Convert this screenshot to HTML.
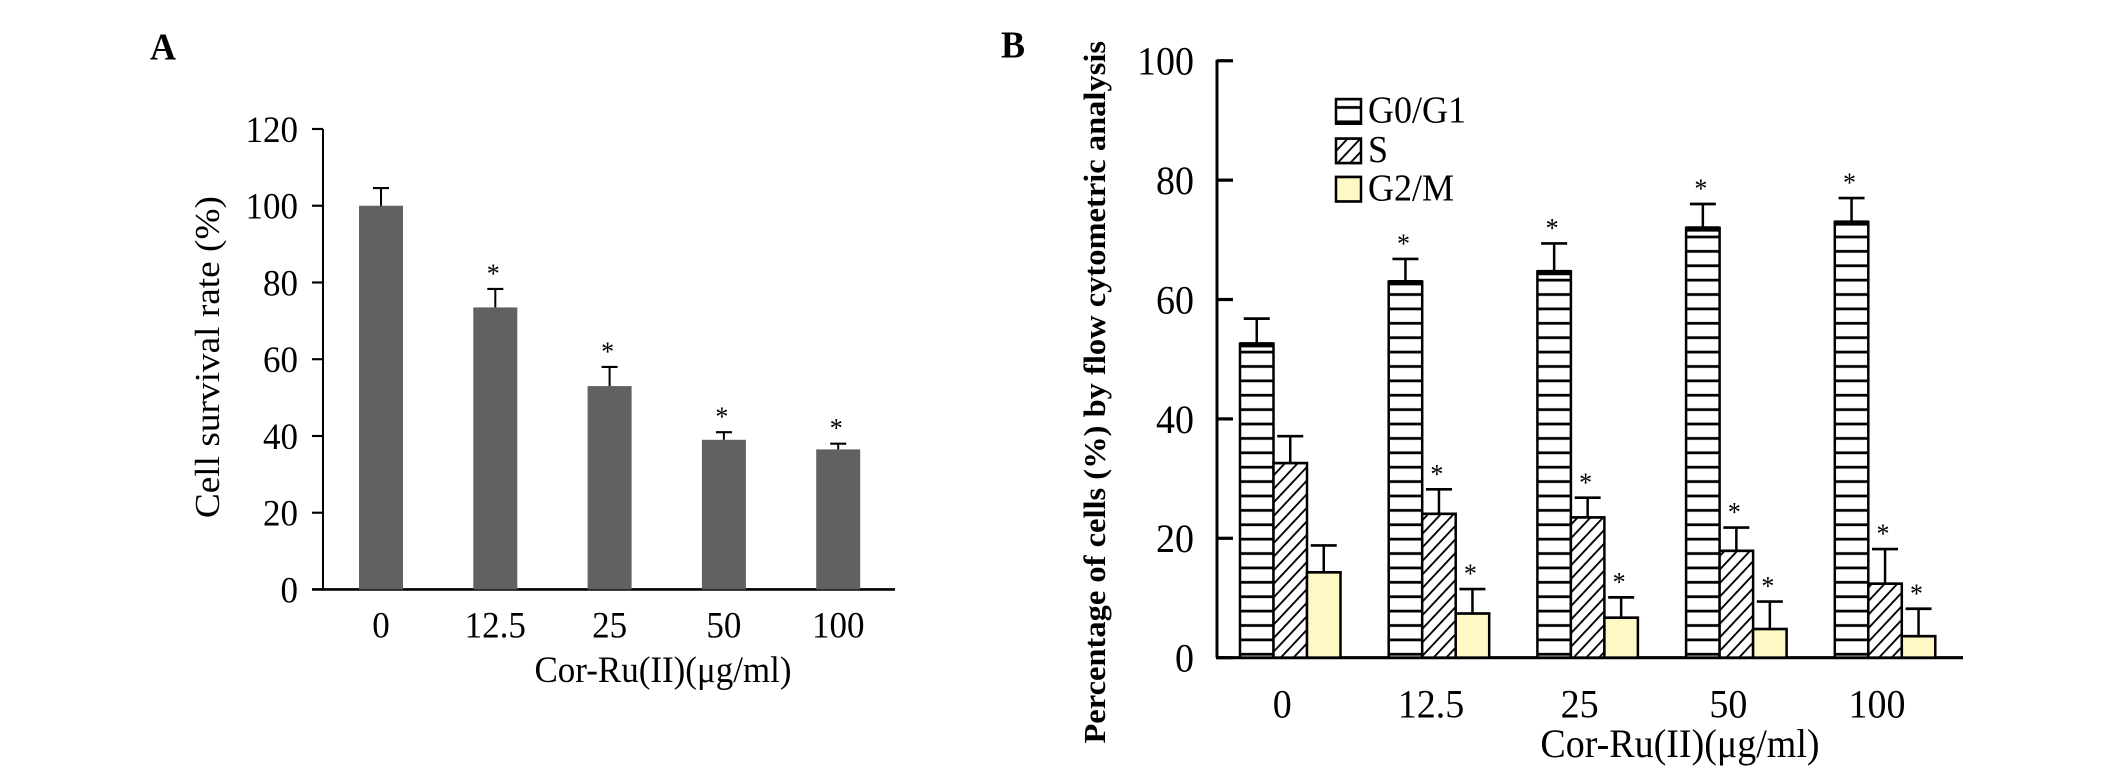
<!DOCTYPE html>
<html><head><meta charset="utf-8"><style>
html,body{margin:0;padding:0;background:#fff;}
svg{display:block;font-family:"Liberation Serif",serif;}
</style></head><body>
<svg id="fig" width="2126" height="776" viewBox="0 0 2126 728" preserveAspectRatio="none" xmlns="http://www.w3.org/2000/svg">
<defs>
<pattern id="hstripe" patternUnits="userSpaceOnUse" width="10" height="13.5"><rect width="10" height="13.5" fill="#fff"/><rect y="5" width="10" height="2.6" fill="#000"/></pattern>
<pattern id="diag" patternUnits="userSpaceOnUse" width="9" height="9" patternTransform="rotate(45)"><rect width="9" height="9" fill="#fff"/><rect x="0" width="1.8" height="9" fill="#000"/></pattern>
</defs>
<text x="150" y="56" font-size="36" font-weight="bold">A</text>
<text x="1001" y="54" font-size="36" font-weight="bold">B</text>
<g id="chartA"></g>
<g id="chartB"></g>
</svg>
<script>
const catsA = ["0","12.5","25","50","100"];
const valsA = [100, 73.5, 53, 39, 36.5];
const errA = [4.6, 4.8, 5, 2, 1.5];
const sigA = [false, true, true, true, true];
const ticksA = [0,20,40,60,80,100,120];

const catsB = ["0","12.5","25","50","100"];
const g0g1 = [52.6, 63, 64.7, 72, 73];
const g0g1Err = [4.2, 3.8, 4.7, 4, 4];
const sPhase = [32.6, 24.1, 23.5, 17.9, 12.4];
const sErr = [4.5, 4.1, 3.3, 3.9, 5.8];
const g2m = [14.3, 7.4, 6.7, 4.8, 3.6];
const g2mErr = [4.5, 4.1, 3.4, 4.6, 4.6];
const sigB = [false, true, true, true, true];
const ticksB = [0,20,40,60,80,100];

const NS="http://www.w3.org/2000/svg";
function mk(parent, tag, attrs, text){
  const e=document.createElementNS(NS,tag);
  for(const k in attrs) e.setAttribute(k, attrs[k]);
  if(text!==undefined) e.textContent=text;
  parent.appendChild(e); return e;
}

// ---------- Chart A ----------
(function(){
  const g=document.getElementById('chartA');
  const x0=323, base=553, step=72/20;
  const yA=v=>base-v*step;
  const xA=i=>381+i*114.3;
  const bw=44;
  let el;
  el=mk(g,'line',{x1:x0,y1:yA(120),x2:x0,y2:base,stroke:'#000','stroke-width':2});
  
  
  el=mk(g,'line',{x1:312,y1:base,x2:895,y2:base,stroke:'#000','stroke-width':2.5});
  
  
  ticksA.forEach(t=>{
    el=mk(g,'line',{x1:312,y1:yA(t),x2:x0,y2:yA(t),stroke:'#000','stroke-width':2});
    
    
    el=mk(g,'text',{x:298,y:yA(t)+12,'font-size':35,'text-anchor':'end'},String(t));
    
    
  });
  catsA.forEach((c,i)=>{
    const cx=xA(i);
    el=mk(g,'rect',{x:cx-bw/2,y:yA(valsA[i]),width:bw,height:base-yA(valsA[i]),fill:'#616161'});
    
    
    const et=yA(valsA[i]+errA[i]);
    el=mk(g,'path',{d:`M${cx} ${yA(valsA[i])} V${et} M${cx-8} ${et} H${cx+8}`,stroke:'#000','stroke-width':2,fill:'none'});
    
    
    if(sigA[i]){
      el=mk(g,'text',{x:cx-2,y:et-6,'font-size':26,'text-anchor':'middle'},'*');
      
      
    }
    el=mk(g,'text',{x:cx,y:598,'font-size':35,'text-anchor':'middle'},c);
    
    
  });
  el=mk(g,'text',{x:663,y:640,'font-size':35,'text-anchor':'middle'},'Cor-Ru(II)(μg/ml)');
  
  
  el=mk(g,'text',{x:0,y:0,'font-size':35,'text-anchor':'middle',transform:'translate(219,335) rotate(-90)'},'Cell survival rate (%)');
  
  
})();

// ---------- Chart B ----------
(function(){
  const g=document.getElementById('chartB');
  const x0=1217, base=617, step=112/20;
  const yB=v=>base-v*step;
  const gx=i=>1240+i*148.7;
  const bw=33.5;
  let el;
  el=mk(g,'line',{x1:x0,y1:yB(100)-1,x2:x0,y2:base,stroke:'#000','stroke-width':3});
  
  
  el=mk(g,'line',{x1:x0-1,y1:base,x2:1963,y2:base,stroke:'#000','stroke-width':3});
  
  
  ticksB.forEach(t=>{
    el=mk(g,'line',{x1:x0,y1:yB(t),x2:1233,y2:yB(t),stroke:'#000','stroke-width':3});
    
    
    el=mk(g,'text',{x:1194,y:yB(t)+13,'font-size':38,'text-anchor':'end'},String(t));
    
    
  });
  const series=[
    {vals:g0g1,err:g0g1Err,fill:'url(#hstripe)',name:'g0g1',sig:sigB},
    {vals:sPhase,err:sErr,fill:'url(#diag)',name:'s-phase',sig:sigB},
    {vals:g2m,err:g2mErr,fill:'#fdf8c4',name:'g2m',sig:sigB}
  ];
  catsB.forEach((c,i)=>{
    series.forEach((s,k)=>{
      const bx=gx(i)+k*bw, v=s.vals[i];
      el=mk(g,'rect',{x:bx,y:yB(v),width:bw,height:base-yB(v),fill:s.fill,stroke:'#000','stroke-width':2.5});
      
      
      if(k===0){
        el=mk(g,'line',{x1:bx,y1:yB(v)+1,x2:bx+bw,y2:yB(v)+1,stroke:'#000','stroke-width':5});
        
        
      }
      const cx=bx+bw/2, et=yB(v+s.err[i]);
      el=mk(g,'path',{d:`M${cx} ${yB(v)} V${et} M${cx-13} ${et} H${cx+13}`,stroke:'#000','stroke-width':2.5,fill:'none'});
      
      
      if(s.sig[i]){
        el=mk(g,'text',{x:cx-2,y:et-6,'font-size':26,'text-anchor':'middle'},'*');
        
        
      }
    });
    el=mk(g,'text',{x:gx(i)+bw*1.5-8,y:673,'font-size':38,'text-anchor':'middle'},c);
    
    
  });
  el=mk(g,'text',{x:1680,y:710,'font-size':38,'text-anchor':'middle'},'Cor-Ru(II)(μg/ml)');
  
  
  el=mk(g,'text',{x:0,y:0,'font-size':30.5,'font-weight':'bold','text-anchor':'middle',transform:'translate(1105,368) rotate(-90)'},'Percentage of cells (%) by flow cytometric analysis');
  
  
  // legend
  const leg=[['G0/G1','url(#hstripe)',93],['S','url(#diag)',130],['G2/M','#fdf8c4',166]];
  leg.forEach(L=>{
    el=mk(g,'rect',{x:1336,y:L[2],width:25,height:23,fill:L[1],stroke:'#000','stroke-width':2.5});
    
    
    el=mk(g,'text',{x:1368,y:L[2]+22,'font-size':36},L[0]);
    
    
  });
})();
</script>
</body></html>
